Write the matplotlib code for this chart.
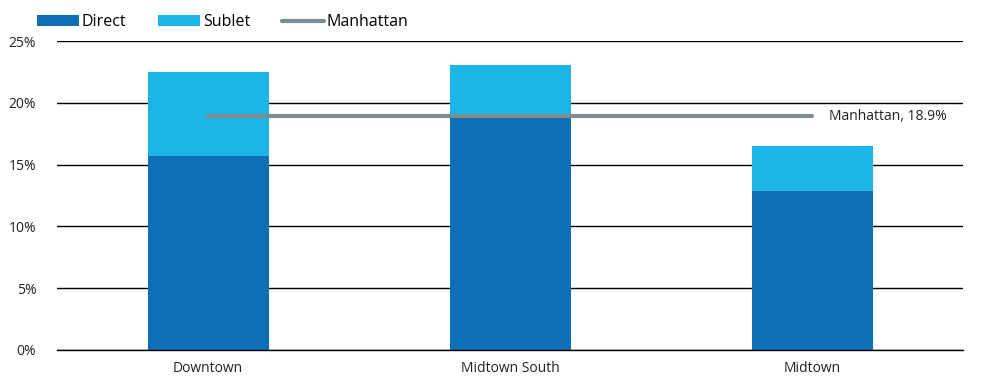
import matplotlib.pyplot as plt
import numpy as np

plt.rcParams['font.family'] = ['Open Sans', 'DejaVu Sans']

# DATA
markets = ['Downtown', 'Midtown South', 'Midtown']
direct = [15.7, 19.1, 12.9]
sublet = [6.8, 4.0, 3.6]
manhattan = 18.9
yticks = [0, 5, 10, 15, 20, 25]

c_direct = '#106eb6'
c_sublet = '#1cb5e5'
c_line = '#7d8b93'

fig = plt.figure(figsize=(9.84, 3.8), dpi=100)
ax = fig.add_axes([0.058, 0.079, 0.921, 0.813])

x = np.arange(len(markets))
b1 = ax.bar(x, direct, width=0.4, color=c_direct, label='Direct', zorder=3)
b2 = ax.bar(x, sublet, width=0.4, bottom=direct, color=c_sublet, label='Sublet', zorder=3)
ln, = ax.plot([x[0], x[-1]], [manhattan, manhattan], color=c_line, lw=3,
              solid_capstyle='round', label='Manhattan', zorder=4)
ax.text(x[-1] + 0.055, manhattan, 'Manhattan, %.1f%%' % manhattan,
        va='center', ha='left', fontsize=10, color='#222222')

ax.set_xlim(-0.5, 2.5)
ax.set_ylim(0, 25)
ax.set_yticks(yticks)
ax.set_yticklabels(['%d%%' % t for t in yticks])
ax.set_xticks(x)
ax.set_xticklabels(markets)
ax.tick_params(length=0, labelsize=10, colors='#222222')
ax.tick_params(axis='y', pad=15)
ax.tick_params(axis='x', pad=8)
ax.grid(axis='y', color='black', lw=1.0, zorder=1)
ax.axhline(0, color='black', lw=1.0, zorder=5, clip_on=False)
for s in ax.spines.values():
    s.set_visible(False)

fig.legend([b1, b2, ln], ['Direct', 'Sublet', 'Manhattan'],
           loc='upper left', bbox_to_anchor=(0.023, 1.0), ncol=3, frameon=False,
           fontsize=11.5, handlelength=2.6, handleheight=0.7, handletextpad=0.2,
           columnspacing=2.0)

plt.savefig('out.png')
